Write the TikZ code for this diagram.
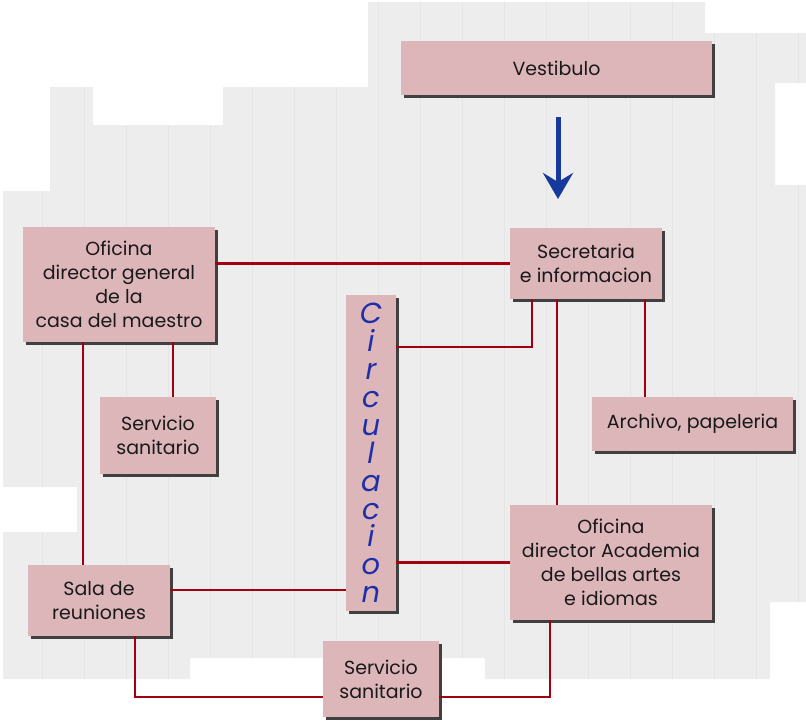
\documentclass[tikz,border=0pt]{standalone}
\usepackage{fontspec}
\setmainfont{Poppins}
\usetikzlibrary{arrows.meta, shadows}

\definecolor{rosebox}{HTML}{DDB6BA}
\definecolor{linkred}{HTML}{A0000F}
\definecolor{circblue}{HTML}{1E2FA8}
\definecolor{arrowblue}{HTML}{173A9A}
\definecolor{paper}{HTML}{EDEDED}
\definecolor{paperline}{HTML}{E5E5E5}

\tikzset{
  room/.style={rectangle, fill=rosebox, align=center, inner sep=0pt,
    text=black!90, font=\fontsize{19}{24}\selectfont,
    drop shadow={shadow xshift=3pt, shadow yshift=-3pt, fill=black!75, opacity=1}},
  link/.style={linkred, line width=2.7pt},
}

\begin{document}
\begin{tikzpicture}[x=1pt, y=-1pt]
  \useasboundingbox (0,0) rectangle (806,724);

  % Grey paper patches behind the plan
  \begin{scope}
    \clip (3,191) -- (50,191) -- (50,87) -- (93,87) -- (93,125) -- (223,125)
      -- (223,87) -- (368,87) -- (368,2) -- (705,2) -- (705,33) -- (806,33)
      -- (806,83) -- (775,83) -- (775,185) -- (806,185) -- (806,602)
      -- (770,602) -- (770,679) -- (485,679) -- (485,658) -- (190,658)
      -- (190,679) -- (3,679) -- (3,532) -- (77,532) -- (77,487) -- (3,487) -- cycle;
    \fill[paper] (0,0) rectangle (806,724);
    \draw[paperline, line width=0.6pt] (0,0) grid[step=42] (806,724);
  \end{scope}

  % Rooms
  \node[room, minimum width=311pt, minimum height=54pt] (vest) at (556.5,68) {Vestibulo};
  \node[room, minimum width=192pt, minimum height=115pt] (dirgen) at (119,284.5)
    {Oficina\\director general\\de la\\casa del maestro};
  \node[room, minimum width=152pt, minimum height=71pt] (secr) at (586,263.5)
    {Secretaria\\e informacion};
  \node[room, minimum width=50pt, minimum height=316pt, text=circblue,
    font=\fontsize{29}{27.9}\selectfont\itshape] (circ) at (371,453)
    {C\\i\\r\\c\\u\\l\\a\\c\\i\\o\\n};
  \node[room, minimum width=116pt, minimum height=77pt] (sanitA) at (158,435.5)
    {Servicio\\sanitario};
  \node[room, minimum width=201pt, minimum height=54pt] (archivo) at (692.5,424)
    {Archivo, papeleria};
  \node[room, minimum width=202pt, minimum height=115pt] (diracad) at (611,562.5)
    {Oficina\\director Academia\\de bellas artes\\e idiomas};
  \node[room, minimum width=142pt, minimum height=71pt] (sala) at (99,600.5)
    {Sala de\\reuniones};
  \node[room, minimum width=116pt, minimum height=76pt] (sanitB) at (381,679)
    {Servicio\\sanitario};

  % Entrance arrow
  \coordinate (arrtop) at (558,117);
  \coordinate (arrtip) at (558,199);
  \draw[arrowblue, line width=5pt, -{Stealth[length=26pt, width=30pt, inset=9pt]}]
    (arrtop) -- (arrtip);

  % Connections
  \draw[link] (secr.west) -- (secr.west -| dirgen.east);
  \draw[link] ([xshift=-16pt]sala.north) -- ([xshift=-16pt]sala.north |- dirgen.south);
  \draw[link] ([xshift=15pt]sanitA.north) -- ([xshift=15pt]sanitA.north |- dirgen.south);
  \draw[link] ([xshift=-54pt]secr.south) |- ([yshift=106pt]circ.east);
  \draw[link] ([xshift=-29pt]secr.south) -- ([xshift=-29pt]secr.south |- diracad.north);
  \draw[link] ([xshift=59pt]secr.south) -- ([xshift=59pt]secr.south |- archivo.north);
  \draw[link] (diracad.west) -- (diracad.west -| circ.east);
  \draw[link] ([yshift=10.5pt]sala.east) -- ([yshift=10.5pt]sala.east -| circ.west);
  \draw[link] ([xshift=36pt]sala.south) |- ([yshift=-18pt]sanitB.west);
  \draw[link] ([yshift=-18pt]sanitB.east) -| ([xshift=-61pt]diracad.south);
\end{tikzpicture}
\end{document}
